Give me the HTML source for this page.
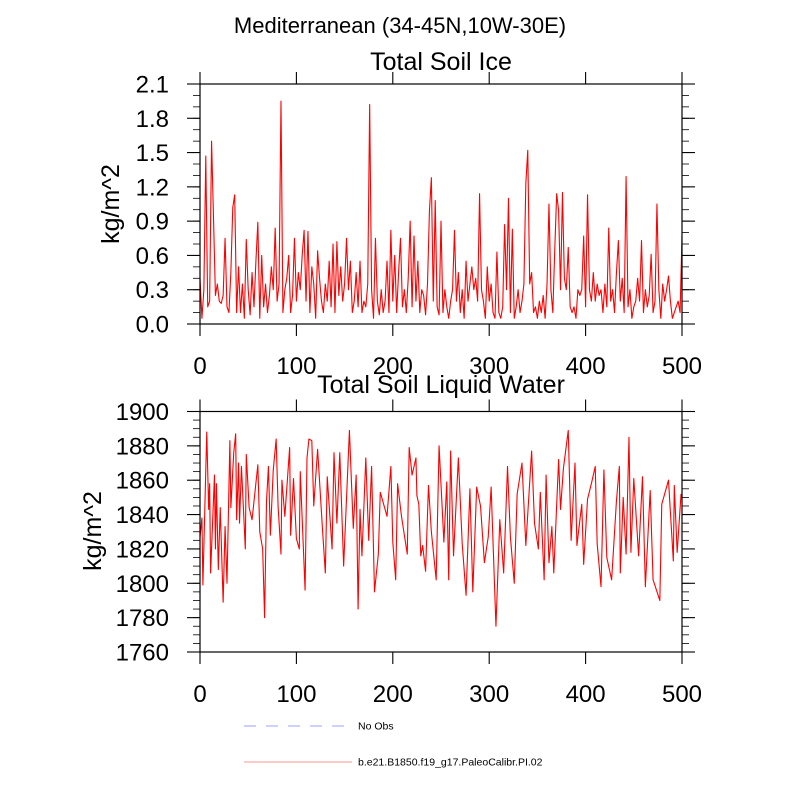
<!DOCTYPE html>
<html><head><meta charset="utf-8"><style>
html,body{margin:0;padding:0;background:#fff;}
svg{display:block;font-family:"Liberation Sans",sans-serif;}
</style></head><body>
<svg id="chart" width="800" height="800" viewBox="0 0 800 800">
<text x="400" y="33" font-size="22" text-anchor="middle">Mediterranean (34-45N,10W-30E)</text>
<text x="441" y="70" font-size="25" text-anchor="middle">Total Soil Ice</text>
<text x="441" y="393" font-size="25" text-anchor="middle">Total Soil Liquid Water</text>
<text transform="translate(119,204) rotate(-90)" font-size="25" text-anchor="middle">kg/m^2</text>
<text transform="translate(101,531) rotate(-90)" font-size="25" text-anchor="middle">kg/m^2</text>
<g>
<line x1="244" y1="726" x2="351" y2="726" stroke="#b0b4ff" stroke-width="1.3" stroke-dasharray="12,10"/>
<text x="358" y="729.5" font-size="10.5">No Obs</text>
<line x1="244" y1="762" x2="352" y2="762" stroke="#ffaaaa" stroke-width="1.3"/>
<text x="358" y="765.5" font-size="10.5">b.e21.B1850.f19_g17.PaleoCalibr.PI.02</text>
</g>
</svg>
<script>
const iceValues=[0.4,0.05,0.3,1.47,0.15,0.2,1.6,0.93,0.25,0.35,
0.2,0.18,0.25,0.75,0.15,0.1,0.45,1.02,1.13,0.1,
0.5,0.1,0.35,0.05,0.74,0.3,0.08,0.45,0.15,0.55,
0.89,0.05,0.6,0.15,0.35,0.1,0.25,0.5,0.3,0.84,
0.2,0.35,1.95,0.1,0.3,0.4,0.6,0.1,0.25,0.75,
0.2,0.45,0.3,0.6,0.82,0.2,0.81,0.1,0.5,0.35,
0.05,0.64,0.4,0.2,0.1,0.35,0.2,0.55,0.15,0.7,
0.1,0.72,0.25,0.5,0.2,0.35,0.75,0.3,0.55,0.1,
0.2,0.45,0.15,0.55,0.1,0.2,0.15,0.35,1.92,0.3,
0.05,0.75,0.2,0.08,0.3,0.1,0.2,0.55,0.1,0.82,
0.2,0.6,0.1,0.45,0.75,0.15,0.3,0.1,0.4,0.9,
0.15,0.77,0.2,0.55,0.1,0.3,0.25,0.08,0.35,0.99,
1.28,0.2,1.08,0.15,0.08,0.9,0.1,0.3,0.15,0.05,
0.2,0.3,0.82,0.2,0.45,0.1,0.3,0.05,0.55,0.2,
0.35,0.5,0.3,0.4,0.2,1.14,0.3,0.2,0.05,0.5,
0.2,0.35,0.1,0.05,0.63,0.1,0.05,0.15,0.87,0.3,
1.1,0.1,0.83,0.05,0.15,0.3,0.1,0.2,0.35,1.23,
1.52,0.35,0.45,0.1,0.15,0.05,0.2,0.1,0.25,0.05,
0.35,1.05,0.3,0.1,0.65,1.14,0.99,0.3,1.15,0.4,
0.3,0.67,0.15,0.1,0.15,0.05,0.3,0.25,0.3,0.77,
0.15,1.13,0.3,0.2,0.45,0.2,0.35,0.25,0.3,0.1,
0.35,0.15,0.84,0.2,0.3,0.1,0.45,0.73,0.2,0.4,
0.1,1.29,0.15,0.3,0.05,0.15,0.2,0.4,0.2,0.73,
0.1,0.3,0.15,0.25,0.61,0.1,0.2,1.05,0.3,0.05,
0.35,0.2,0.3,0.42,0.2,0.05,0.1,0.15,0.2,0.1,
0.77];
const iceYears=iceValues.map((v,i)=>i*2);
const liqYears=[0,2,3,7,9,10,11,15,16,17,19,21,24,26,28,31,32,35,37,38,40,41,43,47,48,51,54,60,62,65,67,69,71,73,76,79,81,84,85,88,93,94,97,100,103,104,109,111,113,116,118,122,127,130,132,137,139,142,145,149,155,159,162,164,166,168,172,175,178,181,185,187,194,198,200,203,205,209,215,217,220,224,225,227,229,231,234,237,240,245,248,253,256,258,260,263,268,272,276,280,283,287,291,295,299,302,307,311,315,319,322,326,329,334,338,344,347,351,353,357,359,362,365,367,372,374,377,382,385,389,391,396,398,402,406,410,412,416,419,422,427,432,435,436,439,442,445,447,450,455,459,462,467,470,477,479,486,491,492,495,499];
const liqValues=[1827,1838,1799,1888,1843,1858,1806,1863,1820,1858,1808,1844,1789,1833,1800,1883,1844,1876,1887,1837,1870,1835,1868,1820,1875,1844,1837,1869,1830,1820,1780,1848,1868,1828,1866,1884,1845,1817,1860,1839,1879,1828,1861,1826,1820,1865,1796,1873,1884,1883,1845,1878,1832,1806,1862,1820,1876,1835,1876,1810,1889,1832,1863,1785,1843,1816,1873,1825,1868,1795,1817,1853,1839,1868,1824,1802,1858,1839,1817,1879,1863,1873,1851,1846,1816,1822,1807,1857,1830,1802,1880,1824,1859,1802,1877,1816,1873,1823,1793,1855,1795,1856,1845,1812,1827,1856,1775,1837,1806,1868,1827,1800,1852,1870,1822,1877,1835,1820,1853,1802,1863,1812,1833,1806,1872,1843,1867,1889,1825,1870,1822,1846,1811,1849,1858,1868,1823,1798,1866,1815,1802,1848,1868,1806,1850,1817,1885,1818,1861,1816,1862,1798,1854,1802,1790,1846,1860,1813,1857,1818,1852];
const xTicks=[0,100,200,300,400,500];
const iceTicks=["0.0","0.3","0.6","0.9","1.2","1.5","1.8","2.1"];
const liqTicks=["1760","1780","1800","1820","1840","1860","1880","1900"];

const NS="http://www.w3.org/2000/svg";
const svg=document.getElementById('chart');
function mk(tag,attrs,parent){const e=document.createElementNS(NS,tag);for(const k in attrs)e.setAttribute(k,attrs[k]);(parent||svg).appendChild(e);return e;}

function panel(name,top,bottom,ymin,ymax,minorStep,ticks,years,vals){
  const L=200,R=682;
  const xs=v=>L+(v-0)/(500-0)*(R-L);
  const ys=v=>bottom-(v-ymin)/(ymax-ymin)*(bottom-top);
  const g=mk('g',{});
  
  
  let d='';
  for(let i=0;i<years.length;i++){d+=(i?'L':'M')+xs(years[i]).toFixed(2)+','+ys(vals[i]).toFixed(2);}
  const p=mk('path',{d:d,fill:'none',stroke:'#ff0000','stroke-width':1.1,'stroke-linejoin':'round'},g);
  
  
  const f=mk('rect',{x:L,y:top,width:R-L,height:bottom-top,fill:'none',stroke:'#000','stroke-width':1.2},g);
  
  
  for(let v=ymin;v<=ymax+1e-9;v+=minorStep){
    const y=ys(v);
    mk('line',{x1:L-7,y1:y,x2:L,y2:y,stroke:'#000','stroke-width':0.8},g);
    mk('line',{x1:R,y1:y,x2:R+7,y2:y,stroke:'#000','stroke-width':0.8},g);
  }
  ticks.forEach(t=>{
    const y=ys(parseFloat(t));
    mk('line',{x1:L-13,y1:y,x2:L,y2:y,stroke:'#000','stroke-width':1.1},g);
    mk('line',{x1:R,y1:y,x2:R+13,y2:y,stroke:'#000','stroke-width':1.1},g);
    const tx=mk('text',{x:L-31,y:y+8.5,'font-size':24,'text-anchor':'end'},g);
    tx.textContent=t;
    
    
  });
  xTicks.forEach(t=>{
    const x=xs(t);
    mk('line',{x1:x,y1:bottom,x2:x,y2:bottom+12,stroke:'#000','stroke-width':1.1},g);
    mk('line',{x1:x,y1:top-12,x2:x,y2:top,stroke:'#000','stroke-width':1.1},g);
    const tx=mk('text',{x:x,y:bottom+50,'font-size':24,'text-anchor':'middle'},g);
    tx.textContent=String(t);
    
    
  });
}
panel('ice',84,324,0,2.1,0.1,iceTicks,iceYears,iceValues);
panel('liquid',411.5,652,1760,1900,5,liqTicks,liqYears,liqValues);
</script>
</body></html>
